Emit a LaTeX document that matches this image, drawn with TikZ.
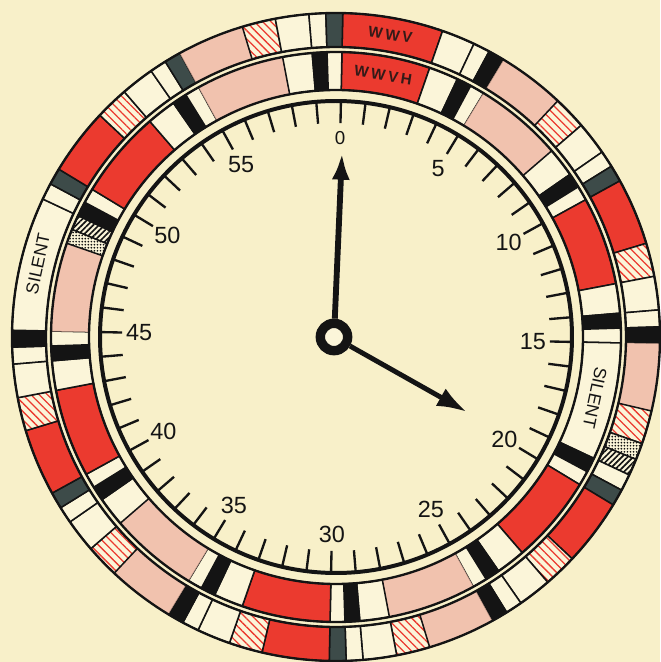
\documentclass[tikz,border=0pt]{standalone}
\usepackage{fontspec}
\setmainfont{Liberation Sans}
\usetikzlibrary{arrows.meta, patterns.meta}
\definecolor{paper}{HTML}{F8F0C9}
\definecolor{cellcream}{HTML}{FBF5D9}
\definecolor{redtone}{HTML}{EB3A2F}
\definecolor{pinktone}{HTML}{F1C2AE}
\definecolor{slate}{HTML}{3D4B49}
\definecolor{inkblack}{HTML}{141414}
\tikzset{
  cellbase/.style={draw=inkblack, line width=1.3pt},
  redcell/.style={cellbase, fill=redtone},
  pinkcell/.style={fill=pinktone, draw=pinktone!75!black, line width=0.4pt},
  hatchcell/.style={cellbase, preaction={fill=cellcream},
                    pattern={Lines[angle=-45, distance=5pt, line width=1.1pt]}, pattern color=redtone},
  blankcell/.style={cellbase, fill=cellcream},
  blackcell/.style={cellbase, fill=inkblack},
  graycell/.style={cellbase, fill=slate},
  dotcell/.style={cellbase, preaction={fill=cellcream},
                  pattern={Dots[distance=2.6pt, radius=0.8pt]}, pattern color=inkblack},
  stripecell/.style={cellbase, preaction={fill=cellcream},
                     pattern={Lines[angle=45, distance=3.4pt, line width=1.4pt]}, pattern color=inkblack},
  ringline/.style={draw=inkblack, line width=2pt},
  dialline/.style={draw=inkblack, line width=3.4pt},
  tickmark/.style={draw=inkblack, line width=2pt},
  numlabel/.style={font=\fontsize{20}{20}\selectfont, text=inkblack, inner sep=0pt},
  ringlabel/.style={font=\fontsize{15}{15}\selectfont, text=inkblack, inner sep=0pt},
  idlabel/.style={font=\bfseries\fontsize{13}{13}\selectfont\addfontfeatures{LetterSpace=18},
                  text=inkblack!85!redtone, inner sep=0pt},
  minhand/.style={draw=inkblack, line width=5pt, -{Latex[length=8mm, width=5.4mm]}},
  hourhand/.style={draw=inkblack, line width=4.2pt, -{Latex[length=9mm, width=6mm]}},
  hubring/.style={circle, draw=inkblack, line width=8pt, fill=cellcream,
                  minimum size=8.2mm, inner sep=0pt},
}

\begin{document}
\begin{tikzpicture}[x=3mm, y=3mm]
  \useasboundingbox (-33.6,-32.5) rectangle (32.4,33.7);
  \fill[paper] (-33.6,-32.5) rectangle (32.4,33.7);

  \begin{scope}[rotate=-1.2]
    % outer ring: WWV
    \foreach \ma/\mb/\kind in {0/3/redcell, 3/4/blankcell, 4/4.5/blankcell, 4.5/5/blackcell,
        5/7/pinkcell, 7/8/hatchcell, 8/9/blankcell, 9/9.5/blankcell, 9.5/10/graycell,
        10/12/redcell, 12/13/hatchcell, 13/14/blankcell, 14/14.5/blankcell, 14.5/15/blackcell,
        15/17/pinkcell, 17/18/hatchcell, 18/18.5/dotcell, 18.5/19/stripecell, 19/19.5/blankcell, 19.5/20/graycell,
        20/22/redcell, 22/23/hatchcell, 23/24/blankcell, 24/24.5/blankcell, 24.5/25/blackcell,
        25/27/pinkcell, 27/28/hatchcell, 28/29/blankcell, 29/29.5/blankcell, 29.5/30/graycell,
        30/32/redcell, 32/33/hatchcell, 33/34/blankcell, 34/34.5/blankcell, 34.5/35/blackcell,
        35/37/pinkcell, 37/38/hatchcell, 38/39/blankcell, 39/39.5/blankcell, 39.5/40/graycell,
        40/42/redcell, 42/43/hatchcell, 43/44/blankcell, 44/44.5/blankcell, 44.5/45/blackcell,
        45/49/blankcell, 49/49.5/blankcell, 49.5/50/graycell,
        50/52/redcell, 52/53/hatchcell, 53/54/blankcell, 54/54.5/blankcell, 54.5/55/graycell,
        55/57/pinkcell, 57/58/hatchcell, 58/59/blankcell, 59/59.5/blankcell, 59.5/60/graycell}
      \path[\kind] (90-6*\ma:32.4) arc[start angle=90-6*\ma, end angle=90-6*\mb, radius=32.4]
        -- (90-6*\mb:29) arc[start angle=90-6*\mb, end angle=90-6*\ma, radius=29] -- cycle;

    % inner ring: WWVH
    \foreach \ma/\mb/\kind in {0/3/redcell, 3/4/blankcell, 4/4.5/blackcell, 4.5/5/blankcell,
        5/8/pinkcell, 8/9/blankcell, 9/9.5/blackcell, 9.5/10/blankcell,
        10/13/redcell, 13/14/blankcell, 14/14.5/blackcell, 14.5/15/blankcell,
        15/19/blankcell, 19/19.5/blackcell, 19.5/20/blankcell,
        20/23/redcell, 23/24/blankcell, 24/24.5/blackcell, 24.5/25/blankcell,
        25/28/pinkcell, 28/29/blankcell, 29/29.5/blackcell, 29.5/30/blankcell,
        30/33/redcell, 33/34/blankcell, 34/34.5/blackcell, 34.5/35/blankcell,
        35/38/pinkcell, 38/39/blankcell, 39/39.5/blackcell, 39.5/40/blankcell,
        40/43/redcell, 43/44/blankcell, 44/44.5/blackcell, 44.5/45/blankcell,
        45/48/pinkcell, 48/48.5/dotcell, 48.5/49/stripecell, 49/49.5/blackcell, 49.5/50/blankcell,
        50/53/redcell, 53/54/blankcell, 54/54.5/blackcell, 54.5/55/blankcell,
        55/58/pinkcell, 58/59/blankcell, 59/59.5/blackcell, 59.5/60/blankcell}
      \path[\kind] (90-6*\ma:28.5) arc[start angle=90-6*\ma, end angle=90-6*\mb, radius=28.5]
        -- (90-6*\mb:24.7) arc[start angle=90-6*\mb, end angle=90-6*\ma, radius=24.7] -- cycle;

    \foreach \r in {32.4, 29, 28.5, 24.7}
      \draw[ringline] (0,0) circle[radius=\r];

    % dial
    \draw[dialline] (0,0) circle[radius=23.6];
    \foreach \m in {0,...,59}
      \draw[tickmark] (90-6*\m:23.6) -- (90-6*\m:21.4);
    \node[numlabel, font=\fontsize{16}{16}\selectfont] (lab0) at (90:19.9) {0};
    \foreach \m in {5,10,...,55}
      \node[numlabel] (lab\m) at (90-6*\m:19.7) {\m};

    \node[ringlabel, rotate=78] (silentwwv) at (90-6*47.1:30.7) {SILENT};
    \node[ringlabel, rotate=-102] (silentwwvh) at (90-6*17:26.6) {SILENT};
    \node[idlabel, rotate=-9] (wwvtag) at (90-6*1.5:30.7) {WWV};
    \node[idlabel, rotate=-9] (wwvhtag) at (90-6*1.5:26.6) {WWVH};
  \end{scope}

  % hands
  \node[hubring] (hub) at (-0.2,0) {};
  \coordinate (mintip) at (0.6,18.4);
  \coordinate (hourtip) at (13.1,-7.5);
  \draw[minhand] (hub) -- (mintip);
  \draw[hourhand] (hub) -- (hourtip);
\end{tikzpicture}
\end{document}
